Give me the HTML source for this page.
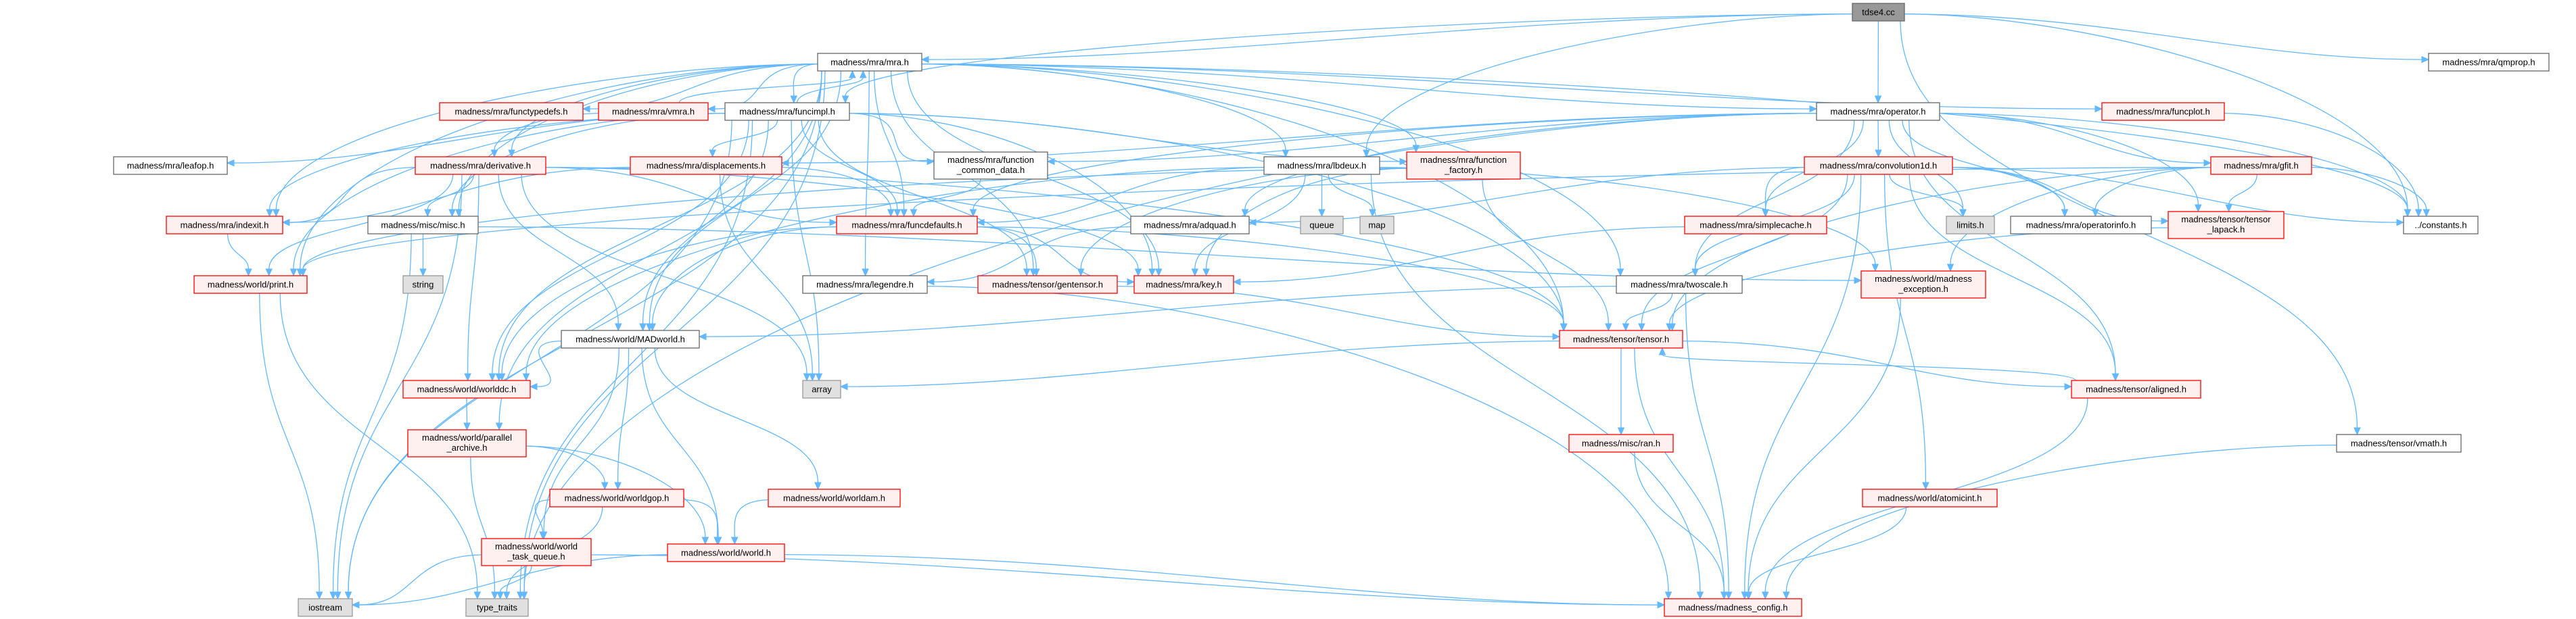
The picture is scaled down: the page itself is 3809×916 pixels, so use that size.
<!DOCTYPE html>
<html><head><meta charset="utf-8">
<style>
html,body{margin:0;padding:0;background:#fff;}
svg{display:block;}
text{font-family:"Liberation Sans","DejaVu Sans",sans-serif;font-size:13px;fill:#000;}
</style></head>
<body>
<svg id="g" xmlns="http://www.w3.org/2000/svg" width="3809" height="916" viewBox="0 0 3809 916">
<g id="edges"></g>
<g id="nodes">
<rect x="2739" y="5" width="77" height="26" fill="#999" stroke="#666" stroke-width="1.3"/><text x="2777.5" y="22.5" text-anchor="middle">tdse4.cc</text>
<rect x="1209" y="79" width="154" height="26" fill="#fff" stroke="#666" stroke-width="1.3"/><text x="1286" y="96.5" text-anchor="middle">madness/mra/mra.h</text>
<rect x="3591" y="79" width="178" height="26" fill="#fff" stroke="#666" stroke-width="1.3"/><text x="3680" y="96.5" text-anchor="middle">madness/mra/qmprop.h</text>
<rect x="650" y="152" width="212" height="26" fill="#fff0f0" stroke="#f00" stroke-width="1.3"/><text x="756" y="169.5" text-anchor="middle">madness/mra/functypedefs.h</text>
<rect x="885" y="152" width="162" height="26" fill="#fff0f0" stroke="#f00" stroke-width="1.3"/><text x="966" y="169.5" text-anchor="middle">madness/mra/vmra.h</text>
<rect x="1072" y="152" width="184" height="26" fill="#fff" stroke="#666" stroke-width="1.3"/><text x="1164" y="169.5" text-anchor="middle">madness/mra/funcimpl.h</text>
<rect x="2686" y="152" width="182" height="26" fill="#fff" stroke="#666" stroke-width="1.3"/><text x="2777" y="169.5" text-anchor="middle">madness/mra/operator.h</text>
<rect x="3108" y="152" width="181" height="26" fill="#fff0f0" stroke="#f00" stroke-width="1.3"/><text x="3198.5" y="169.5" text-anchor="middle">madness/mra/funcplot.h</text>
<rect x="168" y="232" width="168" height="26" fill="#fff" stroke="#666" stroke-width="1.3"/><text x="252" y="249.5" text-anchor="middle">madness/mra/leafop.h</text>
<rect x="614" y="232" width="193" height="26" fill="#fff0f0" stroke="#f00" stroke-width="1.3"/><text x="710.5" y="249.5" text-anchor="middle">madness/mra/derivative.h</text>
<rect x="932" y="232" width="224" height="26" fill="#fff0f0" stroke="#f00" stroke-width="1.3"/><text x="1044" y="249.5" text-anchor="middle">madness/mra/displacements.h</text>
<rect x="1381" y="225" width="168" height="40" fill="#fff" stroke="#666" stroke-width="1.3"/><text x="1465" y="241" text-anchor="middle">madness/mra/function</text><text x="1465" y="256" text-anchor="middle">_common_data.h</text>
<rect x="1869" y="232" width="171" height="26" fill="#fff" stroke="#666" stroke-width="1.3"/><text x="1954.5" y="249.5" text-anchor="middle">madness/mra/lbdeux.h</text>
<rect x="2080" y="225" width="168" height="40" fill="#fff0f0" stroke="#f00" stroke-width="1.3"/><text x="2164" y="241" text-anchor="middle">madness/mra/function</text><text x="2164" y="256" text-anchor="middle">_factory.h</text>
<rect x="2668" y="232" width="219" height="26" fill="#fff0f0" stroke="#f00" stroke-width="1.3"/><text x="2777.5" y="249.5" text-anchor="middle">madness/mra/convolution1d.h</text>
<rect x="3269" y="232" width="149" height="26" fill="#fff0f0" stroke="#f00" stroke-width="1.3"/><text x="3343.5" y="249.5" text-anchor="middle">madness/mra/gfit.h</text>
<rect x="246" y="320" width="172" height="26" fill="#fff0f0" stroke="#f00" stroke-width="1.3"/><text x="332" y="337.5" text-anchor="middle">madness/mra/indexit.h</text>
<rect x="544" y="320" width="163" height="26" fill="#fff" stroke="#666" stroke-width="1.3"/><text x="625.5" y="337.5" text-anchor="middle">madness/misc/misc.h</text>
<rect x="1237" y="320" width="208" height="26" fill="#fff0f0" stroke="#f00" stroke-width="1.3"/><text x="1341" y="337.5" text-anchor="middle">madness/mra/funcdefaults.h</text>
<rect x="1672" y="320" width="175" height="26" fill="#fff" stroke="#666" stroke-width="1.3"/><text x="1759.5" y="337.5" text-anchor="middle">madness/mra/adquad.h</text>
<rect x="1923" y="320" width="63" height="26" fill="#e0e0e0" stroke="#999" stroke-width="1.3"/><text x="1954.5" y="337.5" text-anchor="middle">queue</text>
<rect x="2011" y="320" width="50" height="26" fill="#e0e0e0" stroke="#999" stroke-width="1.3"/><text x="2036" y="337.5" text-anchor="middle">map</text>
<rect x="2491" y="320" width="210" height="26" fill="#fff0f0" stroke="#f00" stroke-width="1.3"/><text x="2596" y="337.5" text-anchor="middle">madness/mra/simplecache.h</text>
<rect x="2878" y="320" width="71" height="26" fill="#e0e0e0" stroke="#999" stroke-width="1.3"/><text x="2913.5" y="337.5" text-anchor="middle">limits.h</text>
<rect x="2973" y="320" width="208" height="26" fill="#fff" stroke="#666" stroke-width="1.3"/><text x="3077" y="337.5" text-anchor="middle">madness/mra/operatorinfo.h</text>
<rect x="3206" y="313" width="171" height="40" fill="#fff0f0" stroke="#f00" stroke-width="1.3"/><text x="3291.5" y="329" text-anchor="middle">madness/tensor/tensor</text><text x="3291.5" y="344" text-anchor="middle">_lapack.h</text>
<rect x="3554" y="320" width="110" height="26" fill="#fff" stroke="#666" stroke-width="1.3"/><text x="3609" y="337.5" text-anchor="middle">../constants.h</text>
<rect x="287" y="408" width="167" height="26" fill="#fff0f0" stroke="#f00" stroke-width="1.3"/><text x="370.5" y="425.5" text-anchor="middle">madness/world/print.h</text>
<rect x="596" y="408" width="59" height="26" fill="#e0e0e0" stroke="#999" stroke-width="1.3"/><text x="625.5" y="425.5" text-anchor="middle">string</text>
<rect x="1187" y="408" width="184" height="26" fill="#fff" stroke="#666" stroke-width="1.3"/><text x="1279" y="425.5" text-anchor="middle">madness/mra/legendre.h</text>
<rect x="1446" y="408" width="206" height="26" fill="#fff0f0" stroke="#f00" stroke-width="1.3"/><text x="1549" y="425.5" text-anchor="middle">madness/tensor/gentensor.h</text>
<rect x="1677" y="408" width="147" height="26" fill="#fff0f0" stroke="#f00" stroke-width="1.3"/><text x="1750.5" y="425.5" text-anchor="middle">madness/mra/key.h</text>
<rect x="2390" y="408" width="186" height="26" fill="#fff" stroke="#666" stroke-width="1.3"/><text x="2483" y="425.5" text-anchor="middle">madness/mra/twoscale.h</text>
<rect x="2752" y="401" width="184" height="40" fill="#fff0f0" stroke="#f00" stroke-width="1.3"/><text x="2844" y="417" text-anchor="middle">madness/world/madness</text><text x="2844" y="432" text-anchor="middle">_exception.h</text>
<rect x="830" y="489" width="204" height="26" fill="#fff" stroke="#666" stroke-width="1.3"/><text x="932" y="506.5" text-anchor="middle">madness/world/MADworld.h</text>
<rect x="2306" y="489" width="182" height="26" fill="#fff0f0" stroke="#f00" stroke-width="1.3"/><text x="2397" y="506.5" text-anchor="middle">madness/tensor/tensor.h</text>
<rect x="596" y="563" width="188" height="26" fill="#fff0f0" stroke="#f00" stroke-width="1.3"/><text x="690" y="580.5" text-anchor="middle">madness/world/worlddc.h</text>
<rect x="1187" y="563" width="56" height="26" fill="#e0e0e0" stroke="#999" stroke-width="1.3"/><text x="1215" y="580.5" text-anchor="middle">array</text>
<rect x="3063" y="563" width="191" height="26" fill="#fff0f0" stroke="#f00" stroke-width="1.3"/><text x="3158.5" y="580.5" text-anchor="middle">madness/tensor/aligned.h</text>
<rect x="603" y="636" width="175" height="40" fill="#fff0f0" stroke="#f00" stroke-width="1.3"/><text x="690.5" y="652" text-anchor="middle">madness/world/parallel</text><text x="690.5" y="667" text-anchor="middle">_archive.h</text>
<rect x="2320" y="643" width="154" height="26" fill="#fff0f0" stroke="#f00" stroke-width="1.3"/><text x="2397" y="660.5" text-anchor="middle">madness/misc/ran.h</text>
<rect x="3455" y="643" width="184" height="26" fill="#fff" stroke="#666" stroke-width="1.3"/><text x="3547" y="660.5" text-anchor="middle">madness/tensor/vmath.h</text>
<rect x="813" y="724" width="198" height="26" fill="#fff0f0" stroke="#f00" stroke-width="1.3"/><text x="912" y="741.5" text-anchor="middle">madness/world/worldgop.h</text>
<rect x="1136" y="724" width="195" height="26" fill="#fff0f0" stroke="#f00" stroke-width="1.3"/><text x="1233.5" y="741.5" text-anchor="middle">madness/world/worldam.h</text>
<rect x="2754" y="724" width="199" height="26" fill="#fff0f0" stroke="#f00" stroke-width="1.3"/><text x="2853.5" y="741.5" text-anchor="middle">madness/world/atomicint.h</text>
<rect x="712" y="797" width="162" height="40" fill="#fff0f0" stroke="#f00" stroke-width="1.3"/><text x="793" y="813" text-anchor="middle">madness/world/world</text><text x="793" y="828" text-anchor="middle">_task_queue.h</text>
<rect x="987" y="805" width="173" height="26" fill="#fff0f0" stroke="#f00" stroke-width="1.3"/><text x="1073.5" y="822.5" text-anchor="middle">madness/world/world.h</text>
<rect x="441" y="886" width="80" height="26" fill="#e0e0e0" stroke="#999" stroke-width="1.3"/><text x="481" y="903.5" text-anchor="middle">iostream</text>
<rect x="689" y="886" width="92" height="26" fill="#e0e0e0" stroke="#999" stroke-width="1.3"/><text x="735" y="903.5" text-anchor="middle">type_traits</text>
<rect x="2461" y="886" width="203" height="26" fill="#fff0f0" stroke="#f00" stroke-width="1.3"/><text x="2562.5" y="903.5" text-anchor="middle">madness/madness_config.h</text>
</g>
</svg>
<script>
(function(){
var N={
tdse:[2739,5,77,26],mra:[1209,79,154,26],qmprop:[3591,79,178,26],functypedefs:[650,152,212,26],vmra:[885,152,162,26],
funcimpl:[1072,152,184,26],operator:[2686,152,182,26],funcplot:[3108,152,181,26],leafop:[168,232,168,26],derivative:[614,232,193,26],
displacements:[932,232,224,26],fcd:[1381,225,168,40],lbdeux:[1869,232,171,26],ffactory:[2080,225,168,40],conv:[2668,232,219,26],
gfit:[3269,232,149,26],indexit:[246,320,172,26],misc:[544,320,163,26],funcdefaults:[1237,320,208,26],adquad:[1672,320,175,26],
queue:[1923,320,63,26],map:[2011,320,50,26],simplecache:[2491,320,210,26],limits:[2878,320,71,26],operatorinfo:[2973,320,208,26],
lapack:[3206,313,171,40],constants:[3554,320,110,26],print:[287,408,167,26],string:[596,408,59,26],legendre:[1187,408,184,26],
gentensor:[1446,408,206,26],key:[1677,408,147,26],twoscale:[2390,408,186,26],mexc:[2752,401,184,40],MADworld:[830,489,204,26],
tensor:[2306,489,182,26],worlddc:[596,563,188,26],array:[1187,563,56,26],aligned:[3063,563,191,26],parch:[603,636,175,40],
ran:[2320,643,154,26],vmath:[3455,643,184,26],worldgop:[813,724,198,26],worldam:[1136,724,195,26],atomicint:[2754,724,199,26],
tq:[712,797,162,40],world:[987,805,173,26],iostream:[441,886,80,26],type_traits:[689,886,92,26],config:[2461,886,203,26]};
var E={
tdse:['mra','funcimpl','lbdeux','operator','qmprop','constants','vmath'],
mra:['functypedefs','vmra','funcimpl','derivative','indexit','misc','print','MADworld','worlddc','parch','iostream','key','gentensor','funcdefaults','legendre','lbdeux','ffactory','operator','twoscale','funcplot','tensor','constants','type_traits'],
vmra:['mra','derivative'],
funcimpl:['mra','leafop','displacements','fcd','funcdefaults','key','gentensor','tensor','array','MADworld','worlddc','indexit','misc','print','iostream','type_traits','ffactory'],
derivative:['misc','print','MADworld','worlddc','funcdefaults','key','tensor','array','iostream','indexit'],
displacements:['indexit','funcdefaults','array'],
fcd:['funcdefaults'],
funcdefaults:['key','gentensor','MADworld','worlddc','tensor'],
lbdeux:['queue','map','key','funcdefaults','worlddc','config','mexc'],
ffactory:['key','gentensor','tensor','print'],
adquad:['legendre'],
operator:['displacements','fcd','adquad','conv','simplecache','twoscale','gfit','limits','operatorinfo','lapack','constants','aligned','type_traits','funcdefaults'],
conv:['simplecache','limits','operatorinfo','lapack','constants','tensor','aligned','config','adquad','twoscale','atomicint'],
gfit:['operatorinfo','lapack','constants','mexc','tensor','print'],
funcplot:['constants'],
twoscale:['tensor','config','MADworld'],
simplecache:['key'],
lapack:['tensor'],
misc:['string','iostream','mexc'],
indexit:['print'],
print:['iostream','type_traits'],
legendre:['config'],
gentensor:['tensor'],
MADworld:['worlddc','worldgop','world','tq','worldam'],
worlddc:['parch'],
parch:['worldgop','type_traits','world'],
worldgop:['tq','world','type_traits'],
worldam:['world'],
tq:['iostream','type_traits','config'],
world:['iostream','config'],
tensor:['ran','config','aligned','array'],
aligned:['tensor','config'],
ran:['config'],atomicint:['config'],mexc:['config'],vmath:['config']};
var g=document.getElementById('edges'),ns='http://www.w3.org/2000/svg',C='#63b8ff';
function cl(v,a,b){return Math.max(a,Math.min(b,v));}
for(var s in E){E[s].forEach(function(t){
 var a=N[s],b=N[t];if(!a||!b)return;
 var acx=a[0]+a[2]/2,bcx=b[0]+b[2]/2,sx,sy,tx,ty,c1x,c1y,c2x,c2y;
 var down=b[1]>a[1]+a[3];
 if(down){
  sy=a[1]+a[3];ty=b[1];
  var d=ty-sy, adx=Math.abs(bcx-acx);
  sx=acx+cl((bcx-acx)*0.12,-a[2]/2+6,a[2]/2-6);
  tx=bcx+cl((acx-bcx)*0.08,-b[2]/2+6,b[2]/2-6);
  c1x=sx;c1y=sy+d*0.5;c2x=tx;c2y=ty-d*0.5;
  if(adx>2.5*d){
   // leave from side
   var dir=bcx>acx?1:-1;
   sx=dir>0?a[0]+a[2]:a[0]; sy=a[1]+a[3]*0.6;
   c1x=sx+dir*adx*0.35;c1y=sy+2;
   if(adx>5*d && Math.abs(b[1]+b[3]/2-sy)<130){
    tx=dir>0?b[0]:b[0]+b[2]; ty=b[1]+b[3]*0.35;
    c2x=tx-dir*adx*0.3;c2y=ty;
   } else {c2x=tx;c2y=ty-d*0.6;}
  }
 } else {
  sy=a[1];ty=b[1]+b[3];var d2=sy-ty;
  sx=acx+cl((bcx-acx)*0.12,-a[2]/2+6,a[2]/2-6);
  tx=bcx+cl((acx-bcx)*0.08,-b[2]/2+6,b[2]/2-6);
  c1x=sx;c1y=sy-d2*0.5;c2x=tx;c2y=ty+d2*0.5;
 }
 var vx=tx-c2x,vy=ty-c2y,L=Math.sqrt(vx*vx+vy*vy);
 if(L<1){vx=tx-sx;vy=ty-sy;L=Math.sqrt(vx*vx+vy*vy)||1;}
 var ux=vx/L,uy=vy/L;
 var ex=tx-ux*10,ey=ty-uy*10;
 var p=document.createElementNS(ns,'path');
 p.setAttribute('d','M'+sx+','+sy+' C'+c1x+','+c1y+' '+c2x+','+c2y+' '+ex+','+ey);
 p.setAttribute('fill','none');p.setAttribute('stroke',C);p.setAttribute('stroke-width','1.3');g.appendChild(p);
 var px=-uy,py=ux;
 var h=document.createElementNS(ns,'polygon');
 h.setAttribute('points',tx+','+ty+' '+(ex+px*4.5)+','+(ey+py*4.5)+' '+(ex-px*4.5)+','+(ey-py*4.5));
 h.setAttribute('fill',C);h.setAttribute('stroke',C);g.appendChild(h);
});}
})();
</script>
</body></html>
